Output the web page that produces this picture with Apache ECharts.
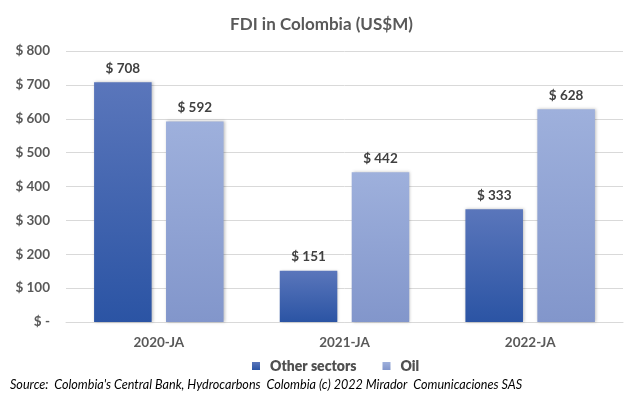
<!DOCTYPE html>
<html>
<head>
<meta charset="utf-8">
<script src="https://cdn.jsdelivr.net/npm/echarts@6/dist/echarts.min.js"></script>
<style>
  html, body { margin: 0; padding: 0; background: #fff; }
  #chart { width: 643px; height: 397px; }
</style>
</head>
<body>
<div id="chart"></div>
<script>
const categories = ['2020-JA', '2021-JA', '2022-JA'];
const otherSectors = [708, 151, 333];
const oil = [592, 442, 628];
const seriesNames = ['Other sectors', 'Oil'];

const font = 'Lato, "Open Sans", sans-serif';
const textGray = '#595959';

const darkFill = new echarts.graphic.LinearGradient(0, 0, 0, 1, [
  { offset: 0, color: '#5a76bb' },
  { offset: 1, color: '#2b54a4' }
]);
const lightFill = new echarts.graphic.LinearGradient(0, 0, 0, 1, [
  { offset: 0, color: '#9eb0dc' },
  { offset: 1, color: '#8296cb' }
]);

const money = v => (v === 0 ? '$ -' : '$ ' + v);

const chart = echarts.init(document.getElementById('chart'));

chart.setOption({
  animation: false,
  title: {
    text: 'FDI in Colombia (US$M)',
    left: 'center',
    top: 11,
    textStyle: { fontFamily: font, fontSize: 17, fontWeight: 'bold', color: textGray }
  },
  legend: {
    data: seriesNames,
    bottom: 19,
    left: 247,
    itemWidth: 8,
    itemHeight: 8,
    itemGap: 26,
    icon: 'rect',
    textStyle: { fontFamily: font, fontSize: 14, fontWeight: 800, color: '#505050', padding: [0, 0, 0, 5] }
  },
  graphic: [{
    type: 'text',
    left: 10,
    top: 378,
    style: {
      text: "Source:  Colombia's Central Bank, Hydrocarbons  Colombia (c) 2022 Mirador  Comunicaciones SAS",
      font: 'italic 12.6px ' + font,
      fill: '#000'
    }
  }],
  grid: { left: 66, right: 20, top: 51, bottom: 75, containLabel: false },
  xAxis: {
    type: 'category',
    data: categories,
    axisLine: { lineStyle: { color: '#d9d9d9' } },
    axisTick: { show: false },
    axisLabel: { fontFamily: font, fontSize: 13.5, fontWeight: 'bold', color: textGray, margin: 14 }
  },
  yAxis: {
    type: 'value',
    min: 0,
    max: 800,
    interval: 100,
    axisLine: { show: false },
    axisTick: { show: false },
    splitLine: { lineStyle: { color: '#d9d9d9' } },
    axisLabel: { fontFamily: font, fontSize: 13.5, fontWeight: 'bold', color: textGray, margin: 16, formatter: money }
  },
  series: [
    {
      name: seriesNames[0],
      type: 'bar',
      data: otherSectors,
      barWidth: '31%',
      barGap: '25%',
      itemStyle: { color: darkFill, shadowColor: 'rgba(0,0,0,0.25)', shadowBlur: 3, shadowOffsetX: 1 },
      label: { show: true, position: 'top', distance: 7, formatter: p => money(p.value),
        fontFamily: font, fontSize: 13.5, fontWeight: 'bold', color: '#404040' }
    },
    {
      name: seriesNames[1],
      type: 'bar',
      data: oil,
      barWidth: '31%',
      itemStyle: { color: lightFill, shadowColor: 'rgba(0,0,0,0.25)', shadowBlur: 3, shadowOffsetX: 1 },
      label: { show: true, position: 'top', distance: 7, formatter: p => money(p.value),
        fontFamily: font, fontSize: 13.5, fontWeight: 'bold', color: '#404040' }
    }
  ]
});
</script>
</body>
</html>
